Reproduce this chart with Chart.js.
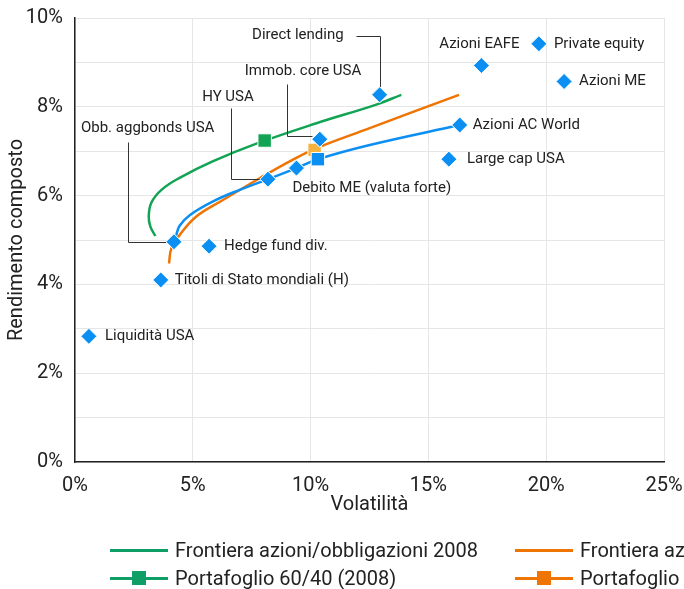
<!DOCTYPE html>
<html><head><meta charset="utf-8">
<script src="https://cdn.jsdelivr.net/npm/chart.js@4.4.1/dist/chart.umd.min.js"></script>
<style>
html,body{margin:0;padding:0;background:#fff;overflow:hidden;}
#wrap{position:relative;width:684px;height:589px;overflow:hidden;}
#c{position:absolute;left:0;top:0;}
#legend{position:absolute;left:110px;top:536px;width:900px;font-family:Roboto,sans-serif;font-size:20px;color:#222;white-space:nowrap;}
.row{position:relative;height:28px;}
.item{position:absolute;top:0;height:28px;display:flex;align-items:center;}
.swatch{position:relative;width:58px;height:28px;margin-right:7px;flex:none;}
.swatch .ln{position:absolute;left:0;right:0;top:13px;height:2.5px;}
.swatch .sq{position:absolute;left:22px;top:7px;width:14px;height:14px;}
</style></head>
<body>
<div id="wrap">
<canvas id="c" width="684" height="589"></canvas>
<div id="legend"></div>
</div>
<script>
// ---- data ----
const assetNames = ["Liquidità USA","Titoli di Stato mondiali (H)","Obb. aggbonds USA","Hedge fund div.","HY USA","Debito ME (valuta forte)","Immob. core USA","Direct lending","Large cap USA","Azioni AC World","Azioni EAFE","Private equity","Azioni ME"];
const assetVol = [0.59,3.64,4.20,5.69,8.19,9.40,10.39,12.93,15.87,16.33,17.25,19.69,20.76];
const assetRet = [2.83,4.10,4.96,4.86,6.37,6.62,7.27,8.27,6.82,7.59,8.93,9.42,8.57];

const greenVol = [3.41,3.20,3.13,3.24,3.67,4.44,5.84,7.70,10.25,12.79,13.85];
const greenRet = [5.09,5.30,5.53,5.84,6.13,6.40,6.77,7.17,7.63,8.05,8.27];
const orangeVol = [3.99,4.09,4.44,5.15,6.28,7.84,9.25,10.25,12.51,16.30];
const orangeRet = [4.47,4.81,5.11,5.53,5.90,6.39,6.81,7.07,7.52,8.27];
const blueVol = [4.28,4.44,4.87,5.86,6.99,8.19,9.40,10.31,12.51,16.33];
const blueRet = [5.08,5.32,5.56,5.87,6.13,6.37,6.62,6.82,7.14,7.59];

const portNames = ["Portafoglio 60/40 (2008)","Portafoglio 60/40 (2025)","Portafoglio 60/40 + alternativi"];
const portVol = [8.05,10.17,10.31];
const portRet = [7.24,7.03,6.82];
const frontierNames = ["Frontiera azioni/obbligazioni 2008","Frontiera azioni/obbligazioni 2025","Frontiera con alternativi"];

const xTicks = [0,5,10,15,20,25];
const yTicks = [0,2,4,6,8,10];

// ---- styling ----
const GREEN = '#12a354', ORANGE = '#ee7404', BLUE = '#0c8ff2', ORANGE_PT = '#f6b23c';
const LEG_GREEN = '#0f9f66';
const FONT = 'Roboto, "Liberation Sans", sans-serif';
const TXT = '#222';

// label placement (pixel offsets from each asset marker), styling only
const labelLayout = [
  {dx:16,dy:0,align:'left'},
  {dx:14,dy:0,align:'left'},
  {dx:-93,dy:-114,align:'left',conn:[[-46,-100],[-46,0],[-8,0]]},
  {dx:15,dy:0,align:'left'},
  {dx:-40,dy:-82,align:'center',conn:[[-37,-71],[-37,0],[-8,0]]},
  {dx:-4,dy:20,align:'left'},
  {dx:-75,dy:-68,align:'left',conn:[[-33,-55],[-33,-3],[-8,-3]]},
  {dx:-36,dy:-60,align:'right',conn:[[-24,-59],[0,-59],[0,-8]]},
  {dx:18,dy:0,align:'left'},
  {dx:13,dy:0,align:'left'},
  {dx:-2,dy:-21,align:'center'},
  {dx:15,dy:0,align:'left'},
  {dx:15,dy:0,align:'left'}
];

const zip = (xs, ys) => xs.map((x,i)=>({x, y: ys[i]}));

const labelPlugin = {
  id:'assetLabels',
  afterDatasetsDraw(chart){
    const meta = chart.getDatasetMeta(0);
    const ctx = chart.ctx;
    ctx.save();
    ctx.strokeStyle = '#333';
    ctx.lineWidth = 1;
    labelLayout.forEach((l,i)=>{
      if(!l.conn) return;
      const p = meta.data[i];
      ctx.beginPath();
      l.conn.forEach((c,k)=>{
        const x = Math.round(p.x + c[0]) + 0.5, y = Math.round(p.y + c[1]) + 0.5;
        if(k===0) ctx.moveTo(x,y); else ctx.lineTo(x,y);
      });
      ctx.stroke();
    });
    meta.data.forEach(el=>el.draw(ctx, chart.chartArea));
    ctx.font = '15px ' + FONT;
    ctx.fillStyle = TXT;
    ctx.textBaseline = 'middle';
    labelLayout.forEach((l,i)=>{
      const p = meta.data[i];
      ctx.textAlign = l.align;
      ctx.fillText(assetNames[i], p.x + l.dx, p.y + l.dy);
    });
    ctx.restore();
  }
};

const chart = new Chart(document.getElementById('c'), {
  type:'scatter',
  data:{
    datasets:[
      {label:'Asset', data: zip(assetVol, assetRet), pointStyle:'rectRot', pointRadius:8, pointHoverRadius:8,
        backgroundColor:BLUE, borderColor:'#fff', borderWidth:1, showLine:false},
      {label:portNames[2], data: zip([portVol[2]],[portRet[2]]), pointStyle:'rect', pointRadius:9.5, pointHoverRadius:9.5,
        backgroundColor:BLUE, borderColor:'#fff', borderWidth:1},
      {label:portNames[1], data: zip([portVol[1]],[portRet[1]]), pointStyle:'rect', pointRadius:9.5, pointHoverRadius:9.5,
        backgroundColor:ORANGE_PT, borderColor:'#fff', borderWidth:1},
      {label:portNames[0], data: zip([portVol[0]],[portRet[0]]), pointStyle:'rect', pointRadius:9.5, pointHoverRadius:9.5,
        backgroundColor:GREEN, borderColor:'#fff', borderWidth:1},
      {label:frontierNames[2], data: zip(blueVol, blueRet), showLine:true, pointRadius:0, borderColor:BLUE, borderWidth:2.5, tension:0.4},
      {label:frontierNames[1], data: zip(orangeVol, orangeRet), showLine:true, pointRadius:0, borderColor:ORANGE, borderWidth:2.5, tension:0.4},
      {label:frontierNames[0], data: zip(greenVol, greenRet), showLine:true, pointRadius:0, borderColor:GREEN, borderWidth:2.5, tension:0.4}
    ]
  },
  options:{
    responsive:false,
    animation:false,
    devicePixelRatio:1,
    layout:{padding:{left:0,top:18,right:0,bottom:72}},
    plugins:{legend:{display:false}, tooltip:{enabled:false}},
    scales:{
      x:{
        type:'linear', min:0, max:25,
        afterBuildTicks(s){ s.ticks = xTicks.map(v=>({value:v})); },
        ticks:{callback:v=>v+'%', color:TXT, font:{family:FONT,size:20}, padding:12, maxRotation:0},
        grid:{color:'#e6e6e6', lineWidth:1, drawTicks:false},
        border:{color:'#222', width:1.5},
        title:{display:true, text:'Volatilità', color:TXT, font:{family:FONT,size:20}, padding:{top:0,bottom:0}},
        afterFit(s){ s.height = 55; s.paddingRight = 20; s.paddingLeft = 10; }
      },
      y:{
        type:'linear', min:0, max:10,
        ticks:{stepSize:1, callback:v=>(yTicks.includes(v) ? v+'%' : ''), color:TXT, font:{family:FONT,size:20}, padding:12},
        grid:{color:'#e6e6e6', lineWidth:1, drawTicks:false},
        border:{color:'#222', width:1.5},
        title:{display:true, text:'Rendimento composto', color:TXT, font:{family:FONT,size:20}, padding:{top:5,bottom:0}},
        afterFit(s){ s.width = 75; s.paddingTop = 0; s.paddingBottom = 0; }
      }
    }
  },
  plugins:[labelPlugin]
});

// HTML legend built from the chart's datasets
const legendItems = [
  {ds:6, col:0, row:0, marker:false, color:LEG_GREEN},
  {ds:5, col:1, row:0, marker:false, color:ORANGE},
  {ds:3, col:0, row:1, marker:true, color:LEG_GREEN},
  {ds:2, col:1, row:1, marker:true, color:ORANGE}
];
const colX = [0, 405];
const legendEl = document.getElementById('legend');
const rows = [document.createElement('div'), document.createElement('div')];
rows.forEach(r=>{ r.className='row'; legendEl.appendChild(r); });
legendItems.forEach(it=>{
  const d = document.createElement('div');
  d.className='item';
  d.style.left = colX[it.col]+'px';
  const sw = document.createElement('span');
  sw.className='swatch';
  sw.innerHTML = '<span class="ln" style="background:'+it.color+'"></span>' + (it.marker ? '<span class="sq" style="background:'+it.color+'"></span>' : '');
  const t = document.createElement('span');
  t.textContent = chart.data.datasets[it.ds].label;
  d.appendChild(sw); d.appendChild(t);
  rows[it.row].appendChild(d);
});
</script>
</body></html>
